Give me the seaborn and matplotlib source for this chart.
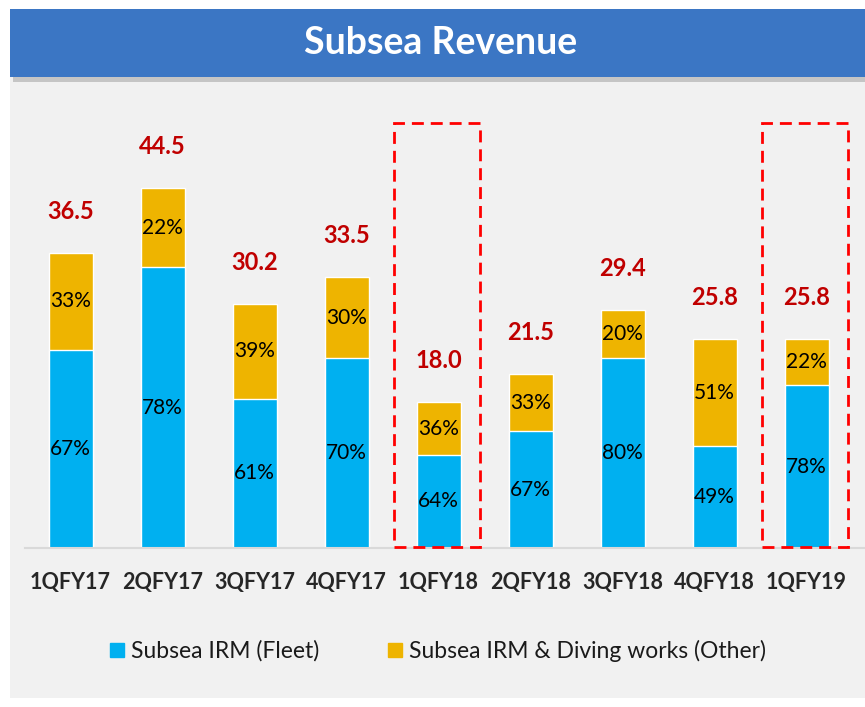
import matplotlib
matplotlib.use("Agg")
import matplotlib.pyplot as plt
from matplotlib.patches import Rectangle, Patch
import seaborn as sns
import pandas as pd

quarters = ["1QFY17", "2QFY17", "3QFY17", "4QFY17", "1QFY18", "2QFY18", "3QFY18", "4QFY18", "1QFY19"]
totals = [36.5, 44.5, 30.2, 33.5, 18.0, 21.5, 29.4, 25.8, 25.8]
fleet_pct = [67, 78, 61, 70, 64, 67, 80, 49, 78]
other_pct = [33, 22, 39, 30, 36, 33, 20, 51, 22]
highlight = ["1QFY18", "1QFY19"]

blue = "#00B0F0"
gold = "#EEB400"
red_txt = "#C00000"

df = pd.DataFrame({"quarter": quarters, "total": totals,
                   "fleet_pct": fleet_pct, "other_pct": other_pct})
df["fleet"] = df["total"] * df["fleet_pct"] / 100

sns.set_style("white")
plt.rcParams["font.family"] = ["Lato", "DejaVu Sans"]

W, H = 865, 707
fig = plt.figure(figsize=(W / 100, H / 100), dpi=100)
fig.patch.set_facecolor("white")

def px_rect(x0, y0, x1, y1, **kw):
    # rectangle in pixel coords (top-left origin)
    return Rectangle((x0 / W, 1 - y1 / H), (x1 - x0) / W, (y1 - y0) / H,
                     transform=fig.transFigure, **kw)

# grey panel, banner shadow and banner
fig.add_artist(px_rect(10, 77, 865, 698, color="#F1F1F1", zorder=-3, lw=0))
fig.add_artist(px_rect(13, 12, 865, 82, color="#A8A8A8", alpha=0.6, zorder=-2, lw=0))
fig.add_artist(px_rect(10, 9, 865, 77, color="#3B76C4", zorder=-1, lw=0))
fig.text(441 / W, 1 - 43 / H, "Subsea Revenue", color="white", fontsize=27,
         fontweight="bold", ha="center", va="center")

# axes: baseline at y=548 px, bar centres 70.6 + 92*i px
left_px, right_px, top_px, base_px = 25, 865, 100, 548
ax = fig.add_axes([left_px / W, 1 - base_px / H, (right_px - left_px) / W, (base_px - top_px) / H])
ax.set_facecolor("none")

sns.barplot(data=df, x="quarter", y="total", color=gold, saturation=1, width=0.48, ax=ax)
sns.barplot(data=df, x="quarter", y="fleet", color=blue, saturation=1, width=0.48, ax=ax)

ax.set_xlim((left_px - 70.6) / 92, (right_px - 70.6) / 92)
ax.set_ylim(0, (base_px - top_px) / 8.09)

for i, row in df.iterrows():
    ax.text(i, row["fleet"] / 2, f"{row['fleet_pct']}%", ha="center", va="center",
            fontsize=15, color="black")
    ax.text(i, row["fleet"] + (row["total"] - row["fleet"]) / 2, f"{row['other_pct']}%",
            ha="center", va="center", fontsize=15, color="black")
    ax.annotate(f"{row['total']:.1f}", (i, row["total"]), xytext=(0, 30),
                textcoords="offset points", ha="center", va="center",
                fontsize=17, fontweight="bold", color=red_txt)

for q in highlight:
    i = quarters.index(q)
    ax.add_patch(Rectangle((i - 0.48, 0.15), 0.93, 52.4, fill=False, edgecolor="#FF0000",
                           lw=2, linestyle=(0, (4.3, 2.5)), clip_on=False, zorder=5))

for s in ["top", "right", "left"]:
    ax.spines[s].set_visible(False)
ax.spines["bottom"].set_color("#D9D9D9")
ax.spines["bottom"].set_linewidth(1.5)
ax.set_yticks([])
ax.set_xlabel("")
ax.set_ylabel("")
ax.tick_params(axis="x", length=0, pad=17, labelsize=15.5, labelcolor="#262626")
for lbl in ax.get_xticklabels():
    lbl.set_fontweight("bold")

handles = [Patch(color=blue, label="Subsea IRM (Fleet)"),
           Patch(color=gold, label="Subsea IRM & Diving works (Other)")]
fig.legend(handles=handles, loc="center", bbox_to_anchor=(438 / W, 1 - 651 / H), ncol=2,
           frameon=False, fontsize=16.5, handlelength=0.62, handleheight=0.62,
           handletextpad=0.3, columnspacing=3.0, labelcolor="#1a1a1a")

fig.savefig("out.png", dpi=100, facecolor=fig.get_facecolor())
